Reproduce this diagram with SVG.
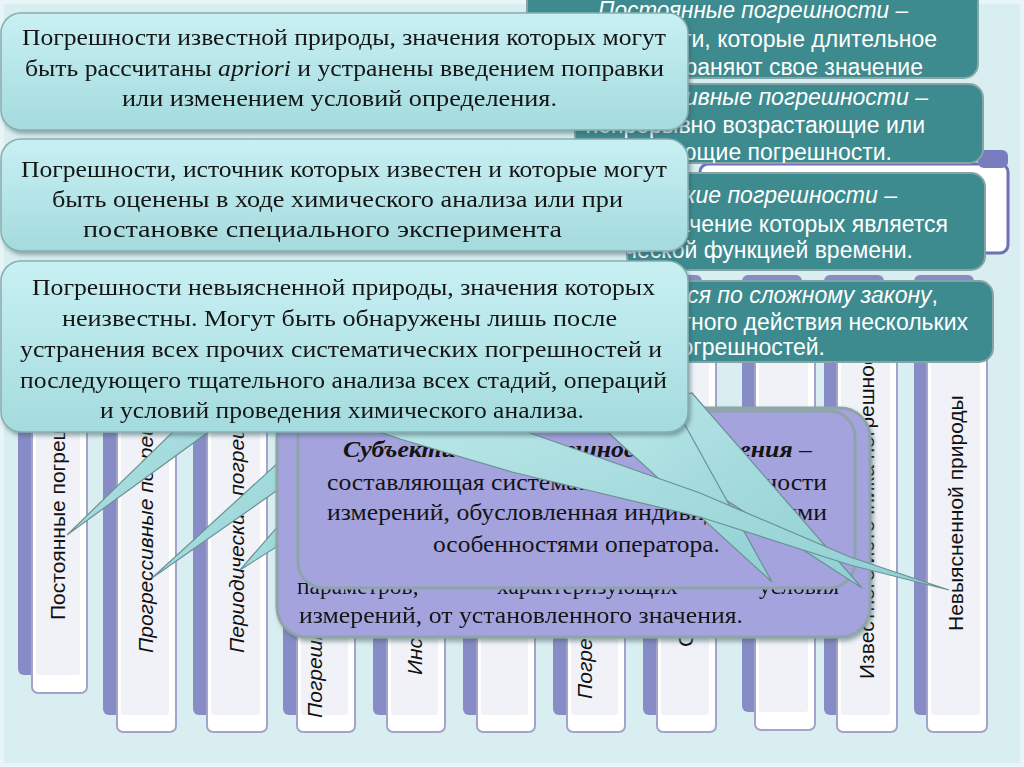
<svg xmlns="http://www.w3.org/2000/svg" width="1024" height="767" viewBox="0 0 1024 767">
<defs>
<linearGradient id="gCal" x1="0" y1="0" x2="0" y2="1"><stop offset="0" stop-color="#c8f0f3"/><stop offset="1" stop-color="#a4dbde"/></linearGradient>
<linearGradient id="gTail" x1="0" y1="0" x2="1" y2="1"><stop offset="0" stop-color="#b9e6e8"/><stop offset="1" stop-color="#8fcfd2"/></linearGradient>
<filter id="sh" x="-10%" y="-10%" width="120%" height="130%"><feDropShadow dx="2" dy="3" stdDeviation="2" flood-color="#3d5a60" flood-opacity="0.5"/></filter>
<clipPath id="cA"><rect x="527" y="-20" width="451" height="98" rx="14"/></clipPath>
<clipPath id="cB"><rect x="575" y="84" width="408" height="79" rx="14"/></clipPath>
<clipPath id="cC"><rect x="627" y="173" width="358" height="97" rx="14"/></clipPath>
<clipPath id="cD"><rect x="615" y="281" width="378" height="81" rx="14"/></clipPath>
<style>
.cb{fill:#878cc6}
.cw{fill:#ffffff;stroke:#a3a3cc;stroke-width:2}
.ci{fill:#f1f1f8}
.ct{font-family:"Liberation Sans",Arial,sans-serif;font-size:21px;fill:#111}
.it{font-style:italic}
.teal{fill:#3d8b8f;stroke:#86a4a6;stroke-width:2}
.tt{font-family:"Liberation Sans",Arial,sans-serif;font-size:23px;fill:#ffffff;text-anchor:end}
.cal{fill:url(#gCal);stroke:#86adb0;stroke-width:1.5}
.st{font-family:"Liberation Serif","Times New Roman",serif;font-size:23.5px;fill:#141414}
.pur{fill:#a4a3dd;stroke:#8ea4a8;stroke-width:3}
.tail{fill:url(#gTail);stroke:#6a9194;stroke-width:1.2}
</style>
</defs>
<rect x="0" y="0" width="1024" height="767" fill="#d9eef0"/>
<rect x="2" y="2" width="1020" height="763" fill="none" stroke="#e8f5f6" stroke-width="4"/>

<g id="header">
<rect x="700" y="164" width="308" height="89" rx="8" fill="#ffffff" stroke="#6f70b6" stroke-width="3"/>
<rect x="978" y="150" width="30" height="18" rx="6" fill="#7a7cc0"/>
</g>

<g id="columns">
<g id="col1"><rect class="cb" x="18" y="275" width="55" height="400" rx="6"/><rect class="cw" x="32" y="288" width="55" height="405" rx="6"/><rect class="ci" x="36" y="292" width="44" height="383" rx="3"/><text class="ct" transform="translate(65,620) rotate(-90)">Постоянные погрешности</text></g>
<g id="col2"><rect class="cb" x="103" y="275" width="59" height="440" rx="6"/><rect class="cw" x="117" y="288" width="59" height="444" rx="6"/><rect class="ci" x="121" y="292" width="48" height="423" rx="3"/><text class="ct it" transform="translate(153,653) rotate(-90)">Прогрессивные погрешности</text></g>
<g id="col3"><rect class="cb" x="193" y="275" width="60" height="440" rx="6"/><rect class="cw" x="207" y="288" width="60" height="444" rx="6"/><rect class="ci" x="211" y="292" width="49" height="423" rx="3"/><text class="ct it" transform="translate(244,653) rotate(-90)">Периодические погрешности</text></g>
<g id="col4"><rect class="cb" x="283" y="275" width="58" height="440" rx="6"/><rect class="cw" x="297" y="288" width="58" height="444" rx="6"/><rect class="ci" x="301" y="292" width="47" height="423" rx="3"/><text class="ct it" transform="translate(322,718) rotate(-90)">Погрешности</text></g>
<g id="col5"><rect class="cb" x="373" y="275" width="58" height="440" rx="6"/><rect class="cw" x="387" y="288" width="58" height="444" rx="6"/><rect class="ci" x="391" y="292" width="47" height="423" rx="3"/><text class="ct it" transform="translate(422,675) rotate(-90)">Инструментальные</text></g>
<g id="col6"><rect class="cb" x="463" y="275" width="58" height="440" rx="6"/><rect class="cw" x="477" y="288" width="58" height="444" rx="6"/><rect class="ci" x="481" y="292" width="47" height="423" rx="3"/></g>
<g id="col7"><rect class="cb" x="553" y="275" width="58" height="440" rx="6"/><rect class="cw" x="567" y="288" width="58" height="444" rx="6"/><rect class="ci" x="571" y="292" width="47" height="423" rx="3"/><text class="ct it" transform="translate(592,699) rotate(-90)">Погрешности</text></g>
<g id="col8"><rect class="cb" x="643" y="275" width="59" height="440" rx="6"/><rect class="cw" x="657" y="288" width="59" height="444" rx="6"/><rect class="ci" x="661" y="292" width="48" height="423" rx="3"/><text class="ct" transform="translate(693,647) rotate(-90)">Субъективные</text></g>
<g id="col9"><rect class="cb" x="742" y="275" width="60" height="437" rx="6"/><rect class="cw" x="755" y="288" width="60" height="442" rx="6"/><rect class="ci" x="759" y="292" width="49" height="420" rx="3"/></g>
<g id="col10"><rect class="cb" x="824" y="275" width="60" height="440" rx="6"/><rect class="cw" x="837" y="288" width="60" height="444" rx="6"/><rect class="ci" x="841" y="292" width="49" height="423" rx="3"/><text class="ct" transform="translate(874,679) rotate(-90)">Известного источника погрешности</text></g>
<g id="col11"><rect class="cb" x="914" y="275" width="60" height="440" rx="6"/><rect class="cw" x="927" y="288" width="60" height="444" rx="6"/><rect class="ci" x="931" y="292" width="49" height="423" rx="3"/><text class="ct" transform="translate(963,631) rotate(-90)">Невыясненной природы</text></g>
</g>

<g id="boxA">
<rect class="teal" x="527" y="-20" width="451" height="98" rx="14"/>
<g clip-path="url(#cA)">
<text class="tt it" x="908" y="18" textLength="310" lengthAdjust="spacingAndGlyphs">Постоянные погрешности –</text>
<text class="tt" x="937" y="47">погрешности, которые длительное</text>
<text class="tt" x="923" y="75">время сохраняют свое значение</text>
</g>
</g>
<g id="boxB">
<rect class="teal" x="575" y="84" width="408" height="79" rx="14"/>
<g clip-path="url(#cB)">
<text class="tt it" x="928" y="105">Прогрессивные погрешности –</text>
<text class="tt" x="925" y="133">непрерывно возрастающие или</text>
<text class="tt" x="892" y="160">убывающие погрешности.</text>
</g>
</g>
<g id="boxC">
<rect class="teal" x="627" y="173" width="358" height="97" rx="14"/>
<g clip-path="url(#cC)">
<text class="tt it" x="897" y="203">Периодические погрешности –</text>
<text class="tt" x="948" y="232">погрешности, значение которых является</text>
<text class="tt" x="913" y="258">периодической функцией времени.</text>
</g>
</g>
<g id="boxD">
<rect class="teal" x="615" y="281" width="378" height="81" rx="14"/>
<g clip-path="url(#cD)">
<text class="tt" x="938" y="303"><tspan font-style="italic">Изменяющиеся по сложному закону</tspan>,</text>
<text class="tt" x="968" y="330">вследствие совместного действия нескольких</text>
<text class="tt" x="825" y="355">систематических погрешностей.</text>
</g>
</g>

<g id="connectors-back">
<path class="tail" d="M180 425 L218 425 L67 535 Z"/>
<path class="tail" d="M292 450 L292 480 L152 578 Z"/>
<path class="tail" d="M292 510 L292 537 L240 570 Z"/>
</g>

<g id="purple1" filter="url(#sh)">
<rect class="pur" x="277" y="408" width="593" height="229" rx="30"/>
<text class="st"><tspan x="297" y="594">параметров,</tspan><tspan x="497" y="594">характеризующих</tspan><tspan x="759" y="594">условия</tspan></text>
<text class="st" x="299" y="623" textLength="444" lengthAdjust="spacingAndGlyphs">измерений, от установленного значения.</text>
</g>
<g id="purple2">
<rect class="pur" x="298" y="411" width="557" height="177" rx="26"/>
<text class="st" x="343" y="457" textLength="469" lengthAdjust="spacingAndGlyphs"><tspan font-weight="bold" font-style="italic">Субъективная погрешность измерения</tspan> –</text>
<text class="st" x="327" y="490" textLength="500" lengthAdjust="spacingAndGlyphs">составляющая систематической погрешности</text>
<text class="st" x="327" y="520" textLength="500" lengthAdjust="spacingAndGlyphs">измерений, обусловленная индивидуальными</text>
<text class="st" x="433" y="552" textLength="287" lengthAdjust="spacingAndGlyphs">особенностями оператора.</text>
</g>

<g id="connectors-front">
<path class="tail" d="M590 412 L692 393 L862 588 Z"/>
<path class="tail" d="M600 425 L685 425 L772 582 Z"/>
<path class="tail" d="M380 425 L520 425 L530 433 L700 493 L850 557 L949 590 L850 565 L700 517 L512 472 L400 439 L380 432 Z"/>
</g>

<g id="callout1" filter="url(#sh)">
<rect class="cal" x="1" y="13" width="687" height="117" rx="20"/>
<text class="st" x="22" y="45" textLength="644" lengthAdjust="spacingAndGlyphs">Погрешности известной природы, значения которых могут</text>
<text class="st" x="25" y="76" textLength="639" lengthAdjust="spacingAndGlyphs">быть рассчитаны <tspan font-style="italic">apriori</tspan> и устранены введением поправки</text>
<text class="st" x="122" y="106" textLength="435" lengthAdjust="spacingAndGlyphs">или изменением условий определения.</text>
</g>
<g id="callout2" filter="url(#sh)">
<rect class="cal" x="1" y="139" width="687" height="112" rx="20"/>
<text class="st" x="21" y="177" textLength="646" lengthAdjust="spacingAndGlyphs">Погрешности, источник которых известен и которые могут</text>
<text class="st" x="52" y="207" textLength="571" lengthAdjust="spacingAndGlyphs">быть оценены в ходе химического анализа или при</text>
<text class="st" x="83" y="237" textLength="479" lengthAdjust="spacingAndGlyphs">постановке специального эксперимента</text>
</g>
<g id="callout3" filter="url(#sh)">
<rect class="cal" x="1" y="261" width="687" height="171" rx="20"/>
<text class="st" x="32" y="295" textLength="623" lengthAdjust="spacingAndGlyphs">Погрешности невыясненной природы, значения которых</text>
<text class="st" x="62" y="326" textLength="555" lengthAdjust="spacingAndGlyphs">неизвестны. Могут быть обнаружены лишь после</text>
<text class="st" x="20" y="357" textLength="642" lengthAdjust="spacingAndGlyphs">устранения всех прочих систематических погрешностей и</text>
<text class="st" x="20" y="388" textLength="647" lengthAdjust="spacingAndGlyphs">последующего тщательного анализа всех стадий, операций</text>
<text class="st" x="100" y="418" textLength="484" lengthAdjust="spacingAndGlyphs">и условий проведения химического анализа.</text>
</g>
</svg>
